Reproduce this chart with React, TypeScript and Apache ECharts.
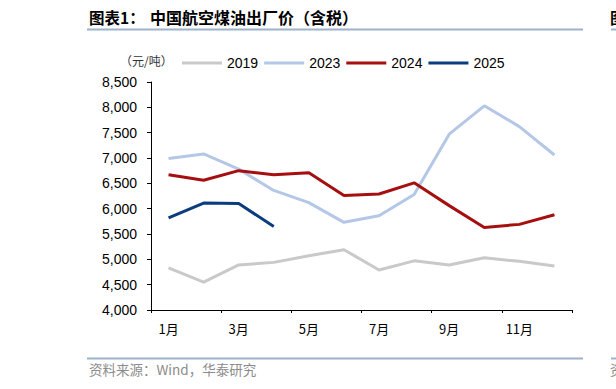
import React, { useEffect, useRef } from "react";
import * as echarts from "echarts";

const months = ["1月", "2月", "3月", "4月", "5月", "6月", "7月", "8月", "9月", "10月", "11月", "12月"];
const s2019 = [4830, 4550, 4890, 4940, 5070, 5190, 4790, 4970, 4890, 5030, 4960, 4870];
const s2023 = [6990, 7080, 6780, 6360, 6120, 5730, 5860, 6280, 7470, 8030, 7620, 7060];
const s2024 = [6670, 6560, 6750, 6670, 6710, 6260, 6290, 6510, 6060, 5630, 5690, 5880];
const s2025 = [5820, 6110, 6100, 5650];
const seriesNames = ["2019", "2023", "2024", "2025"];
const seriesColors = ["#c9c9c9", "#b4c7e7", "#a50f0f", "#0b3d7e"];

const CJK = '"Noto Sans CJK SC", "Liberation Sans", sans-serif';
const NUM = '"Liberation Sans", Arial, sans-serif';

export default function App() {
  const ref = useRef<HTMLDivElement>(null);
  useEffect(() => {
    if (!ref.current) return;
    const chart = echarts.init(ref.current, null, { renderer: "svg" });
    const data = [s2019, s2023, s2024, s2025];
    chart.setOption({
      animation: false,
      backgroundColor: "#ffffff",
      grid: { left: 151, right: 44, top: 82, bottom: 79, containLabel: false },
      legend: {
        left: 177,
        top: 51,
        icon: "rect",
        itemWidth: 40,
        itemHeight: 3,
        itemGap: 6,
        data: seriesNames,
        textStyle: { fontFamily: NUM, fontSize: 14, color: "#000" },
      },
      xAxis: {
        type: "category",
        data: months,
        boundaryGap: true,
        axisLine: { lineStyle: { color: "#000", width: 1 } },
        axisTick: { show: true, interval: 1, length: 3, inside: false, lineStyle: { color: "#000" } },
        axisLabel: { interval: 1, margin: 12, fontFamily: CJK, fontSize: 13, color: "#000" },
        splitLine: { show: false },
      },
      yAxis: {
        type: "value",
        min: 4000,
        max: 8500,
        interval: 500,
        axisLine: { show: true, lineStyle: { color: "#000", width: 1 } },
        axisTick: { show: true, length: 4, lineStyle: { color: "#000" } },
        axisLabel: {
          margin: 14,
          fontFamily: NUM,
          fontSize: 14,
          color: "#000",
          formatter: (v: number) => v.toLocaleString("en-US"),
        },
        splitLine: { show: false },
      },
      series: seriesNames.map((n, i) => ({
        name: n,
        type: "line",
        data: data[i],
        symbol: "none",
        lineStyle: { width: 3, color: seriesColors[i] },
        itemStyle: { color: seriesColors[i] },
      })),
      graphic: [
        { type: "text", left: 89, top: 9, style: { text: "图表1：", fontFamily: CJK, fontSize: 15.5, fontWeight: "bold", fill: "#000" } },
        { type: "text", left: 150, top: 9, style: { text: "中国航空煤油出厂价（含税）", fontFamily: CJK, fontSize: 16, fontWeight: "bold", fill: "#000" } },
        { type: "line", shape: { x1: 87, y1: 29.5, x2: 583, y2: 29.5 }, style: { stroke: "#9db2cc", lineWidth: 2 } },
        { type: "text", left: 610, top: 9, style: { text: "图", fontFamily: CJK, fontSize: 15.5, fontWeight: "bold", fill: "#000" } },
        { type: "line", shape: { x1: 611, y1: 29.5, x2: 620, y2: 29.5 }, style: { stroke: "#9db2cc", lineWidth: 2 } },
        { type: "text", left: 120, top: 54, style: { text: "（元/吨）", fontFamily: CJK, fontSize: 12, fill: "#333" } },
        { type: "line", shape: { x1: 87, y1: 358.5, x2: 583, y2: 358.5 }, style: { stroke: "#9db2cc", lineWidth: 2 } },
        { type: "line", shape: { x1: 611, y1: 358.5, x2: 620, y2: 358.5 }, style: { stroke: "#9db2cc", lineWidth: 2 } },
        { type: "text", left: 89, top: 362, style: { text: "资料来源：Wind，华泰研究", fontFamily: CJK, fontSize: 13.5, fill: "#8c8c8c" } },
        { type: "text", left: 610, top: 362, style: { text: "资", fontFamily: CJK, fontSize: 13.5, fill: "#8c8c8c" } },
      ],
    });
    return () => chart.dispose();
  }, []);
  return <div ref={ref} style={{ position: "absolute", left: 0, top: 0, width: 616, height: 389 }} />;
}
